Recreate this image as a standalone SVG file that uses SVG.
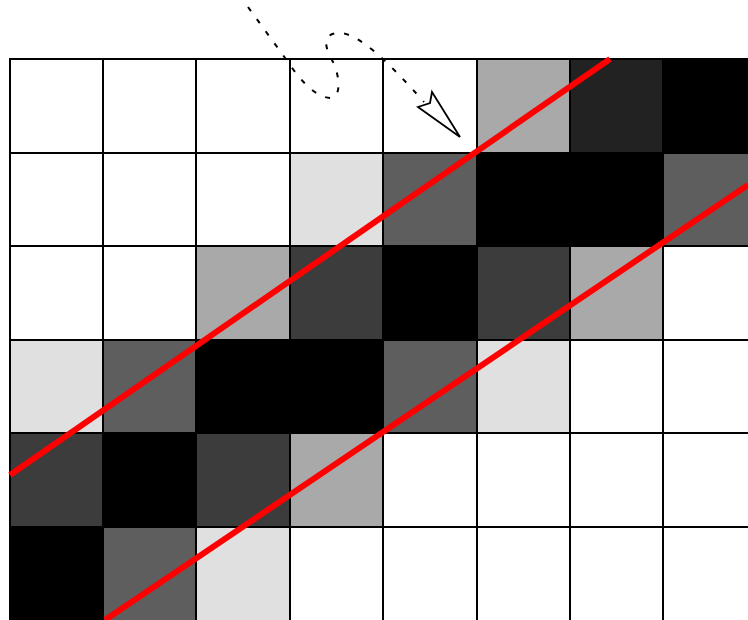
<svg xmlns="http://www.w3.org/2000/svg" width="748" height="620" viewBox="0 0 748 620">
<style>
.w{fill:#ffffff}.l{fill:#e0e0e0}.m{fill:#a9a9a9}.d{fill:#5e5e5e}.k{fill:#3c3c3c}.v{fill:#222222}.b{fill:#000000}
.grid line{stroke:#000;stroke-width:2}
.red{stroke:#ff0000;stroke-width:6;fill:none}
</style>
<rect width="748" height="620" fill="#fff"/>
<g id="cells">
<rect class="m" x="477" y="59" width="93" height="94"/>
<rect class="v" x="570" y="59" width="93" height="94"/>
<rect class="b" x="663" y="59" width="85" height="94"/>
<rect class="l" x="290" y="153" width="93" height="93"/>
<rect class="d" x="383" y="153" width="94" height="93"/>
<rect class="b" x="477" y="153" width="186" height="93"/>
<rect class="d" x="663" y="153" width="85" height="93"/>
<rect class="m" x="196" y="246" width="94" height="94"/>
<rect class="k" x="290" y="246" width="93" height="94"/>
<rect class="b" x="383" y="246" width="94" height="94"/>
<rect class="k" x="477" y="246" width="93" height="94"/>
<rect class="m" x="570" y="246" width="93" height="94"/>
<rect class="l" x="10" y="340" width="93" height="93"/>
<rect class="d" x="103" y="340" width="93" height="93"/>
<rect class="b" x="196" y="340" width="187" height="93"/>
<rect class="d" x="383" y="340" width="94" height="93"/>
<rect class="l" x="477" y="340" width="93" height="93"/>
<rect class="k" x="10" y="433" width="93" height="94"/>
<rect class="b" x="103" y="433" width="93" height="94"/>
<rect class="k" x="196" y="433" width="94" height="94"/>
<rect class="m" x="290" y="433" width="93" height="94"/>
<rect class="b" x="10" y="527" width="93" height="93"/>
<rect class="d" x="103" y="527" width="93" height="93"/>
<rect class="l" x="196" y="527" width="94" height="93"/>
</g>
<g id="grid" class="grid">
<line x1="10" y1="59" x2="10" y2="620"/>
<line x1="103" y1="59" x2="103" y2="620"/>
<line x1="196" y1="59" x2="196" y2="620"/>
<line x1="290" y1="59" x2="290" y2="620"/>
<line x1="383" y1="59" x2="383" y2="620"/>
<line x1="477" y1="59" x2="477" y2="620"/>
<line x1="570" y1="59" x2="570" y2="620"/>
<line x1="663" y1="59" x2="663" y2="620"/>
<line x1="9" y1="59" x2="748" y2="59"/>
<line x1="9" y1="153" x2="748" y2="153"/>
<line x1="9" y1="246" x2="748" y2="246"/>
<line x1="9" y1="340" x2="748" y2="340"/>
<line x1="9" y1="433" x2="748" y2="433"/>
<line x1="9" y1="527" x2="748" y2="527"/>
</g>
<g id="connectors">
<line class="red" x1="10" y1="475" x2="610" y2="59"/>
<line class="red" x1="105" y1="620" x2="748" y2="185"/>
<path d="M248,7 L288,62 C300,80 315,97 330,98 C342,98 340,75 332,60 C322,42 325,33 340,33 C358,34 385,58 424,102" fill="none" stroke="#000" stroke-width="2" stroke-dasharray="5,10"/>
<polygon points="460,137 432,92 430,103 418,107" fill="#fff" stroke="#000" stroke-width="1.8" stroke-linejoin="miter"/>
</g>
</svg>
